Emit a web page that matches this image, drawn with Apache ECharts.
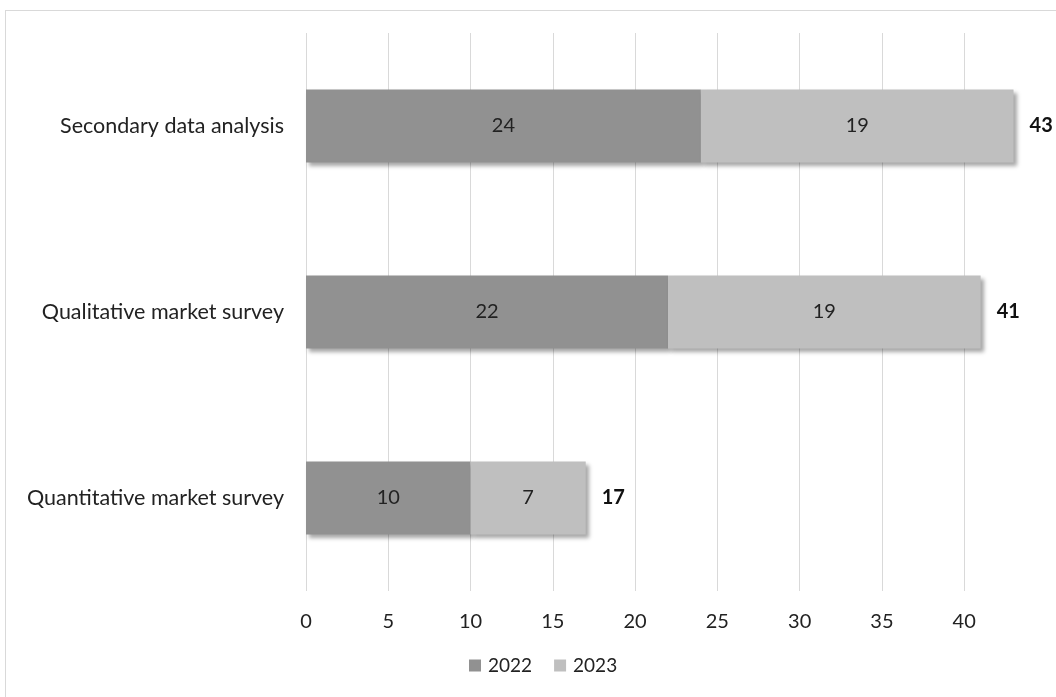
<!DOCTYPE html>
<html>
<head>
<meta charset="utf-8">
<script src="https://cdn.jsdelivr.net/npm/echarts@6/dist/echarts.min.js"></script>
<style>
  html, body { margin: 0; padding: 0; background: #fff; overflow: hidden; }
  #frame { position: absolute; left: 5px; top: 10px; width: 1100px; height: 760px; border: 1px solid #d9d9d9; }
  #main { position: absolute; left: 0; top: 0; width: 1056px; height: 697px; }
</style>
</head>
<body>
<div id="frame"></div>
<div id="main"></div>
<script>
// chart data
var categories = ['Secondary data analysis', 'Qualitative market survey', 'Quantitative market survey'];
var values2022 = [24, 22, 10];
var values2023 = [19, 19, 7];
var seriesNames = ['2022', '2023'];

var totals = values2022.map(function (v, i) { return v + values2023[i]; });

var chart = echarts.init(document.getElementById('main'), null, { renderer: 'canvas' });

var font = 'Lato, "Open Sans", sans-serif';
var shadow = {
  shadowColor: 'rgba(0,0,0,0.35)',
  shadowBlur: 4,
  shadowOffsetX: 3,
  shadowOffsetY: 3
};

var option = {
  backgroundColor: 'transparent',
  animation: false,
  color: ['#919191', '#bfbfbf'],
  textStyle: { fontFamily: font },
  grid: {
    left: 306,
    right: 26,
    top: 33,
    bottom: 106,
    containLabel: false
  },
  legend: {
    data: seriesNames,
    bottom: 17,
    left: 464,
    icon: 'rect',
    itemWidth: 12,
    itemHeight: 12,
    itemGap: 22,
    textStyle: { fontSize: 19, color: '#222', fontFamily: font, padding: [0, 0, 0, 2] }
  },
  xAxis: {
    type: 'value',
    min: 0,
    max: 44,
    interval: 5,
    axisLine: { show: false },
    axisTick: { show: false },
    axisLabel: {
      showMaxLabel: false,
      margin: 21,
      fontSize: 20,
      color: '#222',
      fontFamily: font
    },
    splitLine: {
      show: true,
      showMaxLine: false,
      lineStyle: { color: '#d9d9d9', width: 1 }
    }
  },
  yAxis: {
    type: 'category',
    inverse: true,
    data: categories,
    axisLine: { show: false },
    axisTick: { show: false },
    axisLabel: {
      margin: 22,
      fontSize: 21.5,
      color: '#222',
      fontFamily: font
    }
  },
  series: [
    {
      name: seriesNames[0],
      type: 'bar',
      stack: 'total',
      barWidth: 73,
      data: values2022,
      itemStyle: shadow,
      label: {
        show: true,
        position: 'inside',
        fontSize: 20,
        color: '#222',
        fontFamily: font
      }
    },
    {
      name: seriesNames[1],
      type: 'bar',
      stack: 'total',
      barWidth: 73,
      data: values2023,
      itemStyle: shadow,
      label: {
        show: true,
        position: 'inside',
        fontSize: 20,
        color: '#222',
        fontFamily: font
      }
    },
    {
      // totals, shown to the right of each bar
      name: 'total',
      type: 'bar',
      stack: 'total',
      barWidth: 73,
      data: totals.map(function () { return 0; }),
      itemStyle: { color: 'transparent' },
      label: {
        show: true,
        position: 'right',
        distance: 16,
        fontSize: 20,
        fontWeight: 'bold',
        color: '#111',
        fontFamily: font,
        formatter: function (p) { return totals[p.dataIndex]; }
      },
      tooltip: { show: false }
    }
  ]
};

chart.setOption(option);
</script>
</body>
</html>
